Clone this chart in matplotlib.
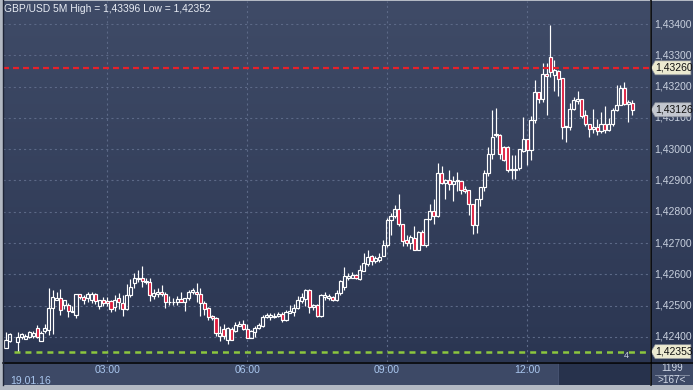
import numpy as np
import matplotlib.pyplot as plt
from matplotlib.colors import LinearSegmentedColormap
from matplotlib.patches import Polygon, Rectangle
from matplotlib.lines import Line2D
from matplotlib.transforms import blended_transform_factory

plt.rcParams['font.family'] = ['Liberation Sans', 'DejaVu Sans']
plt.rcParams['lines.scale_dashes'] = False

nan = float('nan')

# GBP/USD 5M, 19.01.16, bars from 00:50 to 14:15 (bar at 01:00 missing)
opens = [
    1.42366, 1.42387, nan, 1.42383, 1.42401, 1.42394, 1.42401, 1.42404, 1.42430, 1.42387,
    1.42419, 1.42422, 1.42492, 1.42518, 1.42524, 1.42502, 1.42502, 1.42479, 1.42470, 1.42536,
    1.42529, 1.42525, 1.42518, 1.42536, 1.42500, 1.42518, 1.42515, 1.42515, 1.42496, 1.42524,
    1.42508, 1.42490, 1.42534, 1.42572, 1.42585, 1.42588, 1.42579, 1.42577, 1.42532, 1.42537,
    1.42543, 1.42537, 1.42511, 1.42512, 1.42513, 1.42521, 1.42511, 1.42524, 1.42543, 1.42545,
    1.42537, 1.42508, 1.42494, 1.42467, 1.42460, 1.42404, 1.42425, 1.42390, 1.42425, 1.42419,
    1.42435, 1.42441, 1.42426, 1.42398, 1.42417, 1.42428, 1.42436, 1.42465, 1.42463, 1.42465,
    1.42467, 1.42473, 1.42455, 1.42478, 1.42481, 1.42492, 1.42516, 1.42520, 1.42550, 1.42495,
    1.42502, 1.42467, 1.42527, 1.42524, 1.42528, 1.42518, 1.42540, 1.42560, 1.42588, 1.42590,
    1.42598, 1.42585, 1.42612, 1.42633, 1.42659, 1.42644, 1.42646, 1.42659, 1.42694, 1.42775,
    1.42785, 1.42808, 1.42761, 1.42710, 1.42701, 1.42715, 1.42679, 1.42736, 1.42694, 1.42776,
    1.42801, 1.42785, 1.42923, 1.42893, 1.42901, 1.42889, 1.42899, 1.42899, 1.42872, 1.42870,
    1.42825, 1.42759, 1.42840, 1.42878, 1.42925, 1.42985, 1.43046, 1.43046, 1.43008, 1.43008,
    1.42933, 1.42935, 1.42939, 1.42994, 1.43034, 1.42997, 1.43093, 1.43184, 1.43160, 1.43240,
    1.43294, 1.43237, 1.43250, 1.43227, 1.43070, 1.43070, 1.43128, 1.43155, 1.43160, 1.43109,
    1.43082, 1.43063, 1.43070, 1.43059, 1.43082, 1.43061, 1.43082, 1.43125, 1.43141, 1.43195,
    1.43144, 1.43148]
highs = [
    1.42417, 1.42412, nan, 1.42415, 1.42414, 1.42411, 1.42419, 1.42419, 1.42438, 1.42419,
    1.42441, 1.42556, 1.42550, 1.42543, 1.42552, 1.42518, 1.42508, 1.42498, 1.42536, 1.42536,
    1.42534, 1.42545, 1.42545, 1.42540, 1.42518, 1.42528, 1.42528, 1.42518, 1.42535, 1.42540,
    1.42535, 1.42568, 1.42585, 1.42603, 1.42614, 1.42628, 1.42588, 1.42588, 1.42553, 1.42556,
    1.42566, 1.42543, 1.42532, 1.42524, 1.42532, 1.42545, 1.42526, 1.42550, 1.42556, 1.42572,
    1.42558, 1.42516, 1.42497, 1.42470, 1.42463, 1.42434, 1.42441, 1.42431, 1.42431, 1.42449,
    1.42451, 1.42454, 1.42441, 1.42422, 1.42434, 1.42444, 1.42470, 1.42476, 1.42476, 1.42476,
    1.42479, 1.42479, 1.42486, 1.42502, 1.42505, 1.42530, 1.42540, 1.42552, 1.42552, 1.42505,
    1.42505, 1.42537, 1.42543, 1.42537, 1.42530, 1.42550, 1.42582, 1.42623, 1.42604, 1.42607,
    1.42601, 1.42630, 1.42667, 1.42678, 1.42662, 1.42659, 1.42667, 1.42710, 1.42780, 1.42797,
    1.42822, 1.42857, 1.42761, 1.42727, 1.42727, 1.42756, 1.42738, 1.42742, 1.42776, 1.42825,
    1.42840, 1.42957, 1.42946, 1.42906, 1.42933, 1.42914, 1.42928, 1.42899, 1.42882, 1.42870,
    1.42825, 1.42840, 1.42878, 1.42934, 1.43008, 1.43125, 1.43132, 1.43049, 1.43010, 1.43010,
    1.42980, 1.42980, 1.43000, 1.43103, 1.43034, 1.43105, 1.43221, 1.43184, 1.43277, 1.43277,
    1.43396, 1.43285, 1.43253, 1.43227, 1.43074, 1.43149, 1.43166, 1.43187, 1.43160, 1.43125,
    1.43082, 1.43130, 1.43098, 1.43120, 1.43138, 1.43100, 1.43132, 1.43205, 1.43205, 1.43215,
    1.43157, 1.43157]
lows = [
    1.42366, 1.42385, nan, 1.42352, 1.42395, 1.42394, 1.42398, 1.42398, 1.42396, 1.42387,
    1.42412, 1.42406, 1.42409, 1.42518, 1.42470, 1.42489, 1.42463, 1.42479, 1.42460, 1.42520,
    1.42505, 1.42513, 1.42510, 1.42505, 1.42490, 1.42500, 1.42500, 1.42480, 1.42483, 1.42490,
    1.42468, 1.42486, 1.42528, 1.42556, 1.42575, 1.42561, 1.42570, 1.42515, 1.42522, 1.42528,
    1.42532, 1.42494, 1.42503, 1.42503, 1.42503, 1.42511, 1.42484, 1.42518, 1.42537, 1.42513,
    1.42468, 1.42470, 1.42454, 1.42454, 1.42403, 1.42388, 1.42393, 1.42377, 1.42390, 1.42416,
    1.42435, 1.42422, 1.42398, 1.42398, 1.42400, 1.42426, 1.42432, 1.42460, 1.42455, 1.42460,
    1.42463, 1.42448, 1.42452, 1.42478, 1.42468, 1.42489, 1.42508, 1.42498, 1.42478, 1.42486,
    1.42464, 1.42464, 1.42518, 1.42518, 1.42514, 1.42514, 1.42535, 1.42550, 1.42583, 1.42588,
    1.42585, 1.42582, 1.42610, 1.42627, 1.42630, 1.42636, 1.42641, 1.42659, 1.42688, 1.42725,
    1.42780, 1.42755, 1.42692, 1.42692, 1.42681, 1.42677, 1.42677, 1.42694, 1.42687, 1.42774,
    1.42760, 1.42783, 1.42890, 1.42840, 1.42869, 1.42833, 1.42866, 1.42857, 1.42859, 1.42790,
    1.42729, 1.42732, 1.42818, 1.42868, 1.42915, 1.42969, 1.43040, 1.42969, 1.42962, 1.42928,
    1.42905, 1.42905, 1.42935, 1.42990, 1.42950, 1.42965, 1.43085, 1.43148, 1.43150, 1.43110,
    1.43231, 1.43186, 1.43170, 1.43034, 1.43023, 1.43060, 1.43125, 1.43145, 1.43100, 1.43075,
    1.43040, 1.43053, 1.43045, 1.43053, 1.43053, 1.43058, 1.43075, 1.43122, 1.43141, 1.43141,
    1.43087, 1.43109]
closes = [
    1.42390, 1.42409, nan, 1.42401, 1.42409, 1.42404, 1.42417, 1.42412, 1.42401, 1.42412,
    1.42428, 1.42492, 1.42527, 1.42525, 1.42486, 1.42518, 1.42483, 1.42483, 1.42536, 1.42528,
    1.42518, 1.42536, 1.42536, 1.42515, 1.42518, 1.42508, 1.42508, 1.42488, 1.42518, 1.42511,
    1.42490, 1.42534, 1.42561, 1.42588, 1.42590, 1.42579, 1.42575, 1.42534, 1.42540, 1.42545,
    1.42537, 1.42511, 1.42512, 1.42511, 1.42521, 1.42513, 1.42526, 1.42543, 1.42550, 1.42537,
    1.42508, 1.42489, 1.42465, 1.42460, 1.42412, 1.42414, 1.42404, 1.42428, 1.42390, 1.42438,
    1.42441, 1.42426, 1.42398, 1.42419, 1.42428, 1.42438, 1.42465, 1.42470, 1.42470, 1.42467,
    1.42473, 1.42455, 1.42481, 1.42484, 1.42492, 1.42518, 1.42527, 1.42550, 1.42495, 1.42502,
    1.42467, 1.42534, 1.42534, 1.42530, 1.42518, 1.42540, 1.42580, 1.42595, 1.42595, 1.42598,
    1.42588, 1.42614, 1.42635, 1.42656, 1.42644, 1.42652, 1.42656, 1.42694, 1.42774, 1.42788,
    1.42808, 1.42761, 1.42708, 1.42701, 1.42718, 1.42679, 1.42736, 1.42694, 1.42776, 1.42801,
    1.42785, 1.42923, 1.42893, 1.42901, 1.42889, 1.42899, 1.42900, 1.42870, 1.42868, 1.42825,
    1.42759, 1.42840, 1.42878, 1.42925, 1.42985, 1.43040, 1.43049, 1.42985, 1.42967, 1.42933,
    1.42938, 1.42938, 1.43000, 1.43034, 1.42997, 1.43093, 1.43184, 1.43160, 1.43240, 1.43235,
    1.43248, 1.43253, 1.43224, 1.43070, 1.43074, 1.43128, 1.43157, 1.43160, 1.43105, 1.43082,
    1.43063, 1.43070, 1.43059, 1.43082, 1.43061, 1.43082, 1.43125, 1.43141, 1.43195, 1.43144,
    1.43151, 1.43126]

price_levels = [1.424, 1.425, 1.426, 1.427, 1.428, 1.429, 1.430, 1.431, 1.432, 1.433, 1.434]
time_ticks = [26, 62, 98, 134]          # bar index of each label
time_labels = ['03:00', '06:00', '09:00', '12:00']
date_label = '19.01.16'
level_red = 1.43260
level_green = 1.42353
last_price = 1.43126
title = 'GBP/USD 5M High = 1,43396 Low = 1,42352'

W, H = 693, 390
fig = plt.figure(figsize=(W / 100, H / 100), dpi=100, facecolor='#b3b9c3')

ax = fig.add_axes([3 / W, 28 / H, 647 / W, 361 / H])
axr = fig.add_axes([651 / W, 28 / H, 42 / W, 361 / H])
axb = fig.add_axes([3 / W, 5 / H, 647 / W, 23 / H])
axc = fig.add_axes([651 / W, 5 / H, 42 / W, 23 / H])

ylo, yhi = 1.423201, 1.434735
xlo, xhi = -0.77, 165.6

bg = LinearSegmentedColormap.from_list('bg', ['#3f4b67', '#2b3652'])
grad = np.linspace(0, 1, 256).reshape(-1, 1)
for a in (ax, axr):
    a.imshow(grad, cmap=bg, extent=[0, 1, 0, 1], transform=a.transAxes,
             aspect='auto', zorder=0)
    a.set_axis_off()

# grid
for p in price_levels:
    ax.axhline(p, color='#5c6987', lw=0.8, ls=(0, (1.5, 2.2)), zorder=1)
for t in time_ticks:
    ax.axvline(t, color='#5c6987', lw=0.8, ls=(0, (1.5, 2.2)), zorder=1)

o = np.array(opens, dtype=float)
h = np.array(highs, dtype=float)
l = np.array(lows, dtype=float)
c = np.array(closes, dtype=float)
x = np.arange(len(o))
ok = ~np.isnan(o)
top = np.maximum(o, c)
bot = np.minimum(o, c)
down = c < o

ax.vlines(x[ok], top[ok], h[ok], color='white', lw=0.85, zorder=3)
ax.vlines(x[ok], l[ok], bot[ok], color='white', lw=0.85, zorder=3)
ax.bar(x[ok & ~down], (top - bot)[ok & ~down], bottom=bot[ok & ~down], width=0.8,
       facecolor='none', edgecolor='white', linewidth=0.85, zorder=4)
ax.bar(x[ok & down], (top - bot)[ok & down], bottom=bot[ok & down], width=0.8,
       facecolor='#dc1a3c', edgecolor='white', linewidth=0.85, zorder=4)

# level lines
ax.axhline(level_red, color='#e8202a', lw=1.6, ls=(0, (4.3, 2.9)), zorder=5)
low_idx = int(np.nanargmin(l))
ax.plot([low_idx - 1, xhi], [level_green, level_green], color='#8cc63e', lw=1.8,
        ls=(0, (4.3, 3.6)), zorder=5)
ax.text(159.5, level_green - 0.00012, '4', color='#c8d0de', fontsize=6.5,
        ha='center', va='center', zorder=6)

ax.text(0.002, 0.978, title, transform=ax.transAxes, color='#e8ecf4',
        fontsize=7.4, ha='left', va='center', zorder=7)

ax.set_xlim(xlo, xhi)
ax.set_ylim(ylo, yhi)

# right price scale
axr.set_xlim(0, 1)
axr.set_ylim(ylo, yhi)
for p in price_levels:
    axr.text(0.07, p, f'{p:.5f}'.replace('.', ','), color='#c8d0de', fontsize=7.5,
             ha='left', va='center', zorder=2)

half = 7 / 361 * (yhi - ylo)
for p, fc in [(level_red, '#ecead0'), (last_price, '#c3c7cf'), (level_green, '#ecead0')]:
    axr.add_patch(Polygon([(0.0, p), (0.1, p + half), (0.95, p + half),
                           (0.95, p - half), (0.1, p - half)], closed=True,
                          facecolor=fc, edgecolor='#8a8f98', lw=0.5, zorder=3))
    axr.text(0.11, p, f'{p:.5f}'.replace('.', ','), color='#101010', fontsize=7.5,
             ha='left', va='center', zorder=4)

# time strip
axb.set_facecolor('#3d4966')
axb.set_xlim(xlo, xhi)
axb.set_ylim(0, 1)
axb.set_xticks([])
axb.set_yticks([])
for s in axb.spines.values():
    s.set_visible(False)
axb.add_patch(Rectangle((0.858, 0), 0.142, 1.0, transform=axb.transAxes,
                        facecolor='#27324c', edgecolor='#4a5674', lw=0.6))
tr = blended_transform_factory(axb.transData, axb.transAxes)
for t, lab in zip(time_ticks, time_labels):
    axb.text(t, 0.66, lab, transform=tr, color='#a9c6ee', fontsize=7.5,
             ha='center', va='center')
axb.text(0.011, 0.17, date_label, transform=axb.transAxes, color='#a9c6ee',
         fontsize=7.5, ha='left', va='center')

# corner box
axc.set_facecolor('#3d4966')
axc.set_xticks([])
axc.set_yticks([])
for s in axc.spines.values():
    s.set_visible(False)
axc.text(0.5, 0.72, '1199', transform=axc.transAxes, color='#d0d8e6',
         fontsize=7.2, ha='center', va='center')
axc.plot([0.1, 0.9], [0.43, 0.43], transform=axc.transAxes, color='#8a94a8', lw=0.6)
axc.text(0.5, 0.2, '>167<', transform=axc.transAxes, color='#d0d8e6',
         fontsize=7.2, ha='center', va='center')

# separators
fig.add_artist(Line2D([650.5 / W, 650.5 / W], [5 / H, 1], color='black', lw=1.1))
fig.add_artist(Line2D([3 / W, 1], [27.5 / H, 27.5 / H], color='black', lw=1.1))
fig.add_artist(Line2D([2.5 / W, 2.5 / W], [5 / H, 1], color='#1e2436', lw=1.0))

fig.savefig('out.png', dpi=100, facecolor=fig.get_facecolor())
